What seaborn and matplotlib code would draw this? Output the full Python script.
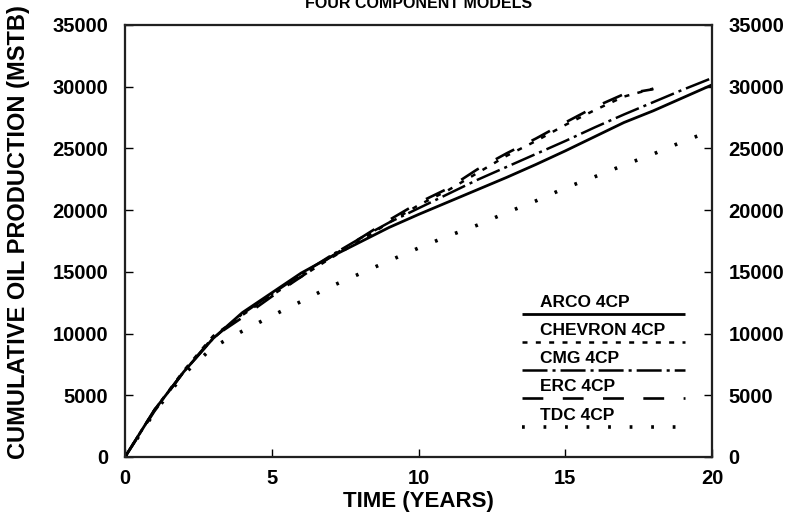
import numpy as np
import pandas as pd
import matplotlib
matplotlib.use("Agg")
import matplotlib.pyplot as plt
import seaborn as sns

# ---- data ----
years = [0, 1, 2, 3, 4, 5, 6, 7, 8, 9, 10, 11, 12, 13, 14, 15, 16, 17, 18, 19, 20]
arco = [0, 3800, 6900, 9600, 11700, 13300, 14900, 16200, 17400, 18600, 19650,
        20650, 21650, 22650, 23700, 24800, 25950, 27100, 28050, 29100, 30150]
cmg = [0, 3800, 6900, 9600, 11600, 13200, 14800, 16300, 17700, 19000, 20150,
       21300, 22450, 23500, 24550, 25600, 26700, 27750, 28750, 29750, 30700]
years_18 = [0, 1, 2, 3, 4, 5, 6, 7, 8, 9, 10, 11, 12, 13, 14, 15, 16, 17, 18]
chevron = [0, 3800, 7000, 9800, 11500, 13100, 14600, 16100, 17500, 19000, 20400,
           21600, 23000, 24400, 25600, 26900, 28100, 29200, 29850]
erc = [0, 3700, 6900, 9700, 11300, 13000, 14600, 16200, 17700, 19200, 20600,
       21750, 23300, 24600, 25800, 27100, 28350, 29400, 29800]
tdc = [0, 3600, 6700, 8900, 10200, 11430, 12600, 13800, 14850, 15900, 16930,
       17900, 18780, 19800, 20750, 21800, 22700, 23650, 24550, 25550, 26450]

labels = ["ARCO 4CP", "CHEVRON 4CP", "CMG 4CP", "ERC 4CP", "TDC 4CP"]
yticks = [0, 5000, 10000, 15000, 20000, 25000, 30000, 35000]
xticks = [0, 5, 10, 15, 20]

sns.set_theme(style="white")
plt.rcParams["font.family"] = ["Liberation Sans", "DejaVu Sans"]
plt.rcParams["font.weight"] = "bold"
plt.rcParams["lines.scale_dashes"] = False

fig = plt.figure(figsize=(8.01, 5.26), dpi=100)
ax = fig.add_axes([125 / 801, 1 - 457 / 526, 587 / 801, 432 / 526])

styles = {
    "ARCO 4CP": dict(ls="-", lw=2.0),
    "CHEVRON 4CP": dict(ls=(0, (3.6, 6.0)), lw=1.8),
    "CMG 4CP": dict(ls=(0, (18, 3.6, 2.2, 3.6)), lw=1.8),
    "ERC 4CP": dict(ls=(0, (15, 14)), lw=1.9),
    "TDC 4CP": dict(ls=(0, (2.0, 13.5)), lw=2.6),
}
series = {
    "ARCO 4CP": (years, arco),
    "CHEVRON 4CP": (years_18, chevron),
    "CMG 4CP": (years, cmg),
    "ERC 4CP": (years_18, erc),
    "TDC 4CP": (years, tdc),
}
for name in ["TDC 4CP", "ERC 4CP", "CHEVRON 4CP", "CMG 4CP", "ARCO 4CP"]:
    xs, ys = series[name]
    df = pd.DataFrame({"t": xs, "v": ys})
    st = styles[name]
    sns.lineplot(data=df, x="t", y="v", ax=ax, color="black",
                 linestyle=st["ls"], linewidth=st["lw"], legend=False,
                 solid_capstyle="butt", dash_capstyle="butt")

ax.set_xlim(0, 20)
ax.set_ylim(0, 35000)
ax.set_xticks(xticks)
ax.set_yticks(yticks)
ax.set_xticklabels([str(v) for v in xticks])
ax.set_yticklabels([str(v) for v in yticks])
for s in ax.spines.values():
    s.set_visible(True)
    s.set_color("black")
    s.set_linewidth(1.6)

ax.tick_params(axis="both", direction="in", length=6, width=1.0, color="black",
               labelsize=14.5, labelcolor="black")
ax.tick_params(axis="y", pad=12)
ax.tick_params(axis="x", pad=9)
ax.tick_params(axis="y", which="both", left=True, right=False)
ax.tick_params(axis="x", which="both", bottom=True, top=False)

ax2 = ax.twinx()
ax2.set_ylim(0, 35000)
ax2.set_yticks(yticks)
ax2.set_yticklabels([str(v) for v in yticks])
ax2.tick_params(axis="y", direction="in", length=6, width=1.0, color="black",
                labelsize=14.5, labelcolor="black", pad=12)
ax2.grid(False)
for lab in ax2.get_yticklabels():
    lab.set_fontweight("bold")
for lab in ax.get_xticklabels() + ax.get_yticklabels():
    lab.set_fontweight("bold")

ax.set_xlabel("TIME (YEARS)", fontsize=16, fontweight="bold", color="black")
ax.set_ylabel("CUMULATIVE OIL PRODUCTION (MSTB)", fontsize=17,
              fontweight="bold", color="black")
ax.xaxis.set_label_coords(0.5, (457 - 502) / 432)
ax.yaxis.set_label_coords((19 - 125) / 587, (457 - 232) / 432)
ax.xaxis.label.set_va("center")
ax.yaxis.label.set_va("center")

fig.text((125 + 712) / 2 / 801, 1 - 8 / 526, "FOUR COMPONENT MODELS",
         ha="center", va="baseline", fontsize=11.5, fontweight="bold",
         color="black")

# ---- legend: label text above a line sample ----
leg_x0, leg_x1 = (522 - 125) / 587, (685 - 125) / 587
text_x = (540 - 125) / 587
line_ys = [314, 342, 370, 398, 427]
for name, ly in zip(labels, line_ys):
    st = styles[name]
    yf = (457 - ly) / 432
    ax.plot([leg_x0, leg_x1], [yf, yf], transform=ax.transAxes, color="black",
            linestyle=st["ls"], linewidth=st["lw"], solid_capstyle="butt",
            dash_capstyle="butt")
    ax.text(text_x, yf + 4 / 432, name, transform=ax.transAxes, ha="left",
            va="bottom", fontsize=12.5, fontweight="bold", color="black")

fig.savefig("out.png", dpi=100)
